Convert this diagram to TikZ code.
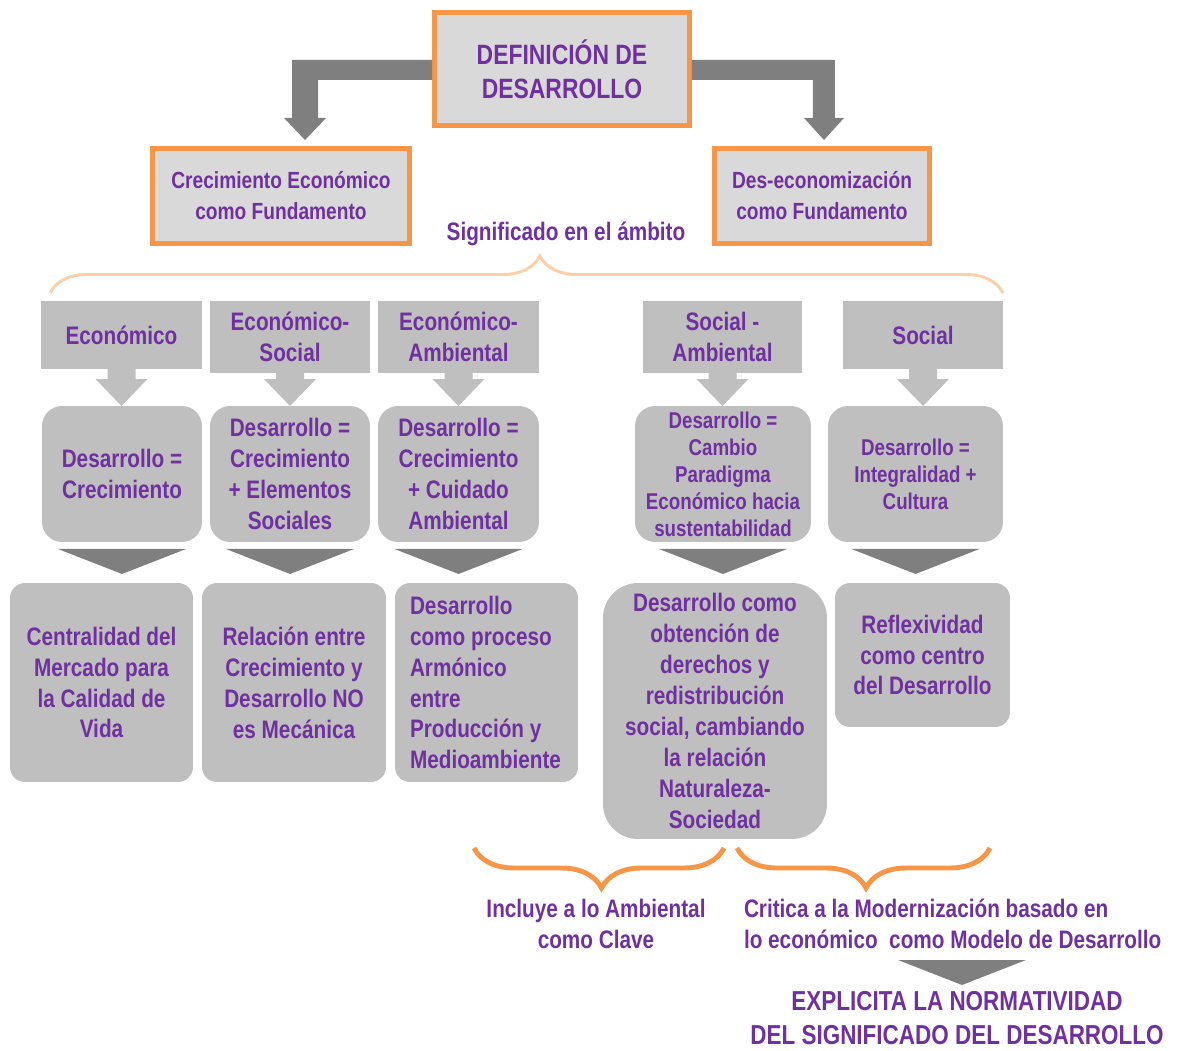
\documentclass[tikz,border=0pt]{standalone}
\usepackage{fontspec}
\newfontfamily\nar{Liberation Sans Bold}[FakeStretch=0.82]
\usetikzlibrary{calc,decorations.pathreplacing}
\definecolor{purp}{HTML}{7030A0}
\definecolor{orng}{HTML}{F79646}
\definecolor{peach}{HTML}{FBCFAA}
\definecolor{lbox}{HTML}{D9D9D9}
\definecolor{mbox}{HTML}{BFBFBF}
\definecolor{dark}{HTML}{7F7F7F}
\newcommand\lgarrow[2]{%
  \coordinate (tip#1) at (#1.south |- #2.north);
  \fill[mbox] ($(#1.south)+(-14,0)$) -- ($(#1.south)+(14,0)$) -- ($(tip#1)+(14,-27)$) -- ($(tip#1)+(26,-27)$) -- (tip#1) -- ($(tip#1)+(-26,-27)$) -- ($(tip#1)+(-14,-27)$) -- cycle;}
\newcommand\dchev[1]{%
  \fill[dark] ($(#1.south)+(-64,7)$) -- ($(#1.south)+(64,7)$) -- ($(#1.south)+(0,32)$) -- cycle;}
\begin{document}
\begin{tikzpicture}[x=0.02cm,y=-0.02cm,
  every node/.style={inner sep=0pt, outer sep=0pt, text=purp, align=center},
  obox/.style={draw=orng, line width=2.8pt, fill=lbox, font=\nar\fontsize{13.3}{17.6}\selectfont},
  tbox/.style={obox, font=\nar\fontsize{15.9}{19.3}\selectfont},
  hbox/.style={fill=mbox, font=\nar\fontsize{14.4}{17.6}\selectfont},
  rbox/.style={fill=mbox, rounded corners=0.4cm, font=\nar\fontsize{14.4}{17.6}\selectfont},
  sbox/.style={fill=mbox, rounded corners=0.3cm, font=\nar\fontsize{14.4}{17.6}\selectfont},
  smalltxt/.style={font=\nar\fontsize{13}{15.4}\selectfont},
  lbl/.style={font=\nar\fontsize{14.4}{17.6}\selectfont},
  big/.style={font=\nar\fontsize{15.6}{19.3}\selectfont},
  bigbrace/.style={draw=orng, line width=2.8pt, decorate, decoration={brace, amplitude=0.8cm}},
  peachbrace/.style={draw=peach, line width=1.7pt, decorate, decoration={brace, amplitude=0.74cm, aspect=0.514}}
]
\useasboundingbox (0,0) rectangle (1178,1051);

% top level
\node[tbox, minimum width=5.1cm, minimum height=2.26cm] (top) at (562,69) {DEFINICIÓN DE\\DESARROLLO};
\node[obox, minimum width=5.14cm, minimum height=1.9cm] (crec) at (281,196) {Crecimiento Económico\\como Fundamento};
\node[obox, minimum width=4.3cm, minimum height=1.9cm] (deseco) at (822,196) {Des-economización\\como Fundamento};

\fill[dark] ($(top.west)+(-2.5,-9)$) -- ++(-140,0) -- ++(0,58) -- ++(-8,0) -- ++(21,22) -- ++(21,-22) -- ++(-8,0) -- ++(0,-38) -- ++(114,0) -- cycle;
\fill[dark] ($(top.east)+(2.5,-9)$) -- ++(143,0) -- ++(0,58) -- ++(9,0) -- ++(-20,22) -- ++(-20,-22) -- ++(9,0) -- ++(0,-38) -- ++(-121,0) -- cycle;

\node[lbl] (sig) at (566,234) {Significado en el ámbito};
\draw[peachbrace] (50,293) -- (1003,293);

% headers
\node[hbox, minimum width=3.22cm, minimum height=1.36cm] (h1) at (121.5,335) {Económico};
\node[hbox, minimum width=3.2cm, minimum height=1.44cm] (h2) at (290,337) {Económico-\\Social};
\node[hbox, minimum width=3.22cm, minimum height=1.44cm] (h3) at (458.5,337) {Económico-\\Ambiental};
\node[hbox, minimum width=3.18cm, minimum height=1.44cm] (h4) at (722.5,337) {Social -\\Ambiental};
\node[hbox, minimum width=3.2cm, minimum height=1.36cm] (h5) at (923,335) {Social};

% row 2
\node[rbox, minimum width=3.2cm, minimum height=2.72cm] (r1) at (122,474) {Desarrollo =\\Crecimiento};
\node[rbox, minimum width=3.2cm, minimum height=2.72cm] (r2) at (290,474) {Desarrollo =\\Crecimiento\\+ Elementos\\Sociales};
\node[rbox, minimum width=3.22cm, minimum height=2.72cm] (r3) at (458.5,474) {Desarrollo =\\Crecimiento\\+ Cuidado\\Ambiental};
\node[rbox, smalltxt, minimum width=3.52cm, minimum height=2.72cm] (r4) at (723,474) {Desarrollo =\\Cambio\\Paradigma\\Económico hacia\\sustentabilidad};
\node[rbox, smalltxt, minimum width=3.5cm, minimum height=2.72cm] (r5) at (915.5,474) {Desarrollo =\\Integralidad +\\Cultura};

\lgarrow{h1}{r1}
\lgarrow{h2}{r2}
\lgarrow{h3}{r3}
\lgarrow{h4}{r4}
\lgarrow{h5}{r5}

% row 3
\node[sbox, minimum width=3.66cm, minimum height=3.98cm] (s1) at (101.5,682.5) {Centralidad del\\Mercado para\\la Calidad de\\Vida};
\node[sbox, minimum width=3.68cm, minimum height=3.98cm] (s2) at (294,682.5) {Relación entre\\Crecimiento y\\Desarrollo NO\\es Mecánica};
\node[sbox, minimum width=3.66cm, minimum height=3.98cm, text width=3.06cm, align=flush left] (s3) at (486.5,682.5) {Desarrollo\\como proceso\\Armónico\\entre\\Producción y\\Medioambiente};
\node[sbox, rounded corners=0.7cm, minimum width=4.48cm, minimum height=5.12cm] (s4) at (715,711) {Desarrollo como\\obtención de\\derechos y\\redistribución\\social, cambiando\\la relación\\Naturaleza-\\Sociedad};
\node[sbox, minimum width=3.5cm, minimum height=2.88cm] (s5) at (922.5,655) {Reflexividad\\como centro\\del Desarrollo};

\dchev{r1}
\dchev{r2}
\dchev{r3}
\dchev{r4}
\dchev{r5}

% bottom braces
\draw[bigbrace, decoration={aspect=0.49}] (724,848) -- (474,848);
\draw[bigbrace, decoration={aspect=0.49}] (990,848) -- (737,848);

\node[lbl] (inc) at (596,924) {Incluye a lo Ambiental\\como Clave};
\node[lbl, anchor=west, align=left] (crit) at (744,924) {Critica a la Modernización basado en\\lo económico\ \ como Modelo de Desarrollo};

\coordinate (fc) at (962,960);
\fill[dark] ($(fc)+(-64,0)$) -- ($(fc)+(64,0)$) -- ($(fc)+(0,25)$) -- cycle;
\node[big] (fin) at (957,1018) {EXPLICITA LA NORMATIVIDAD\\DEL SIGNIFICADO DEL DESARROLLO};
\end{tikzpicture}
\end{document}
